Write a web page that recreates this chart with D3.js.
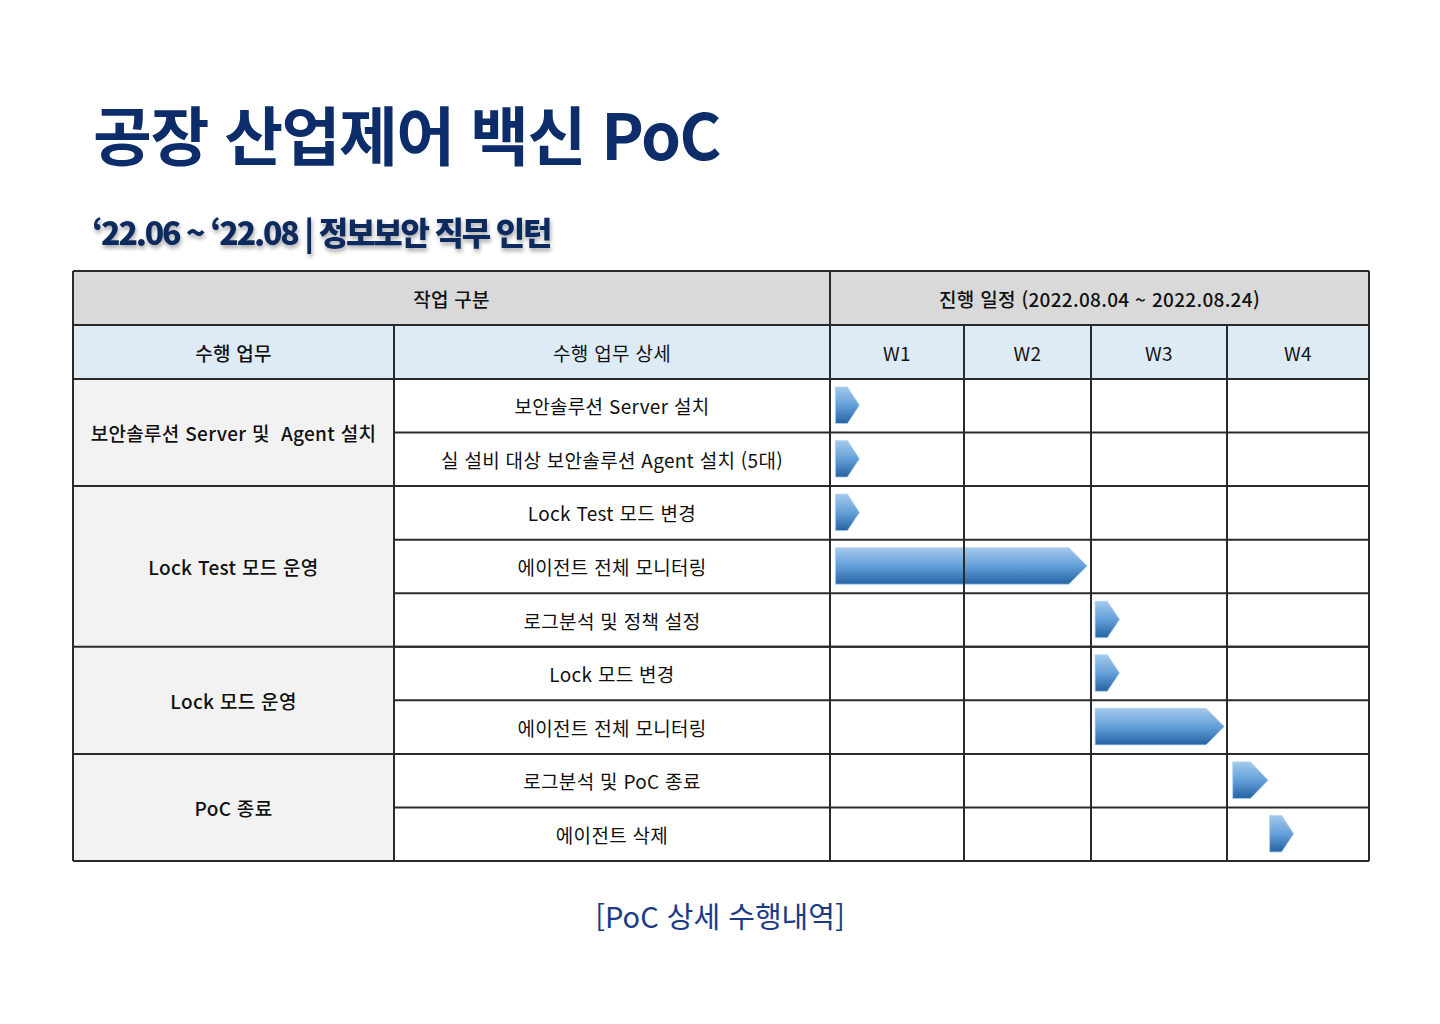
<!DOCTYPE html>
<html lang="ko">
<head>
<meta charset="utf-8">
<script src="https://cdn.jsdelivr.net/npm/d3@7"></script>
<style>
  html, body { margin: 0; padding: 0; background: #fff; }
  svg text { white-space: pre; }
</style>
</head>
<body>
<div id="chart"></div>
<script>
// DATA ////////////////////////////////////////////////////////////////////////
const title = "공장 산업제어 백신 PoC";
const subtitle = "‘22.06 ~ ‘22.08 | 정보보안 직무 인턴";
const caption = "[PoC 상세 수행내역]";

const headLeft = "작업 구분";
const headRight = "진행 일정 (2022.08.04 ~ 2022.08.24)";
const subHeads = ["수행 업무", "수행 업무 상세"];
const weeks = ["W1", "W2", "W3", "W4"];

const groups = ["보안솔루션 Server 및  Agent 설치", "Lock Test 모드 운영", "Lock 모드 운영", "PoC 종료"];
const groupSize = [2, 3, 2, 2];

const tasks = [
  "보안솔루션 Server 설치",
  "실 설비 대상 보안솔루션 Agent 설치 (5대)",
  "Lock Test 모드 변경",
  "에이전트 전체 모니터링",
  "로그분석 및 정책 설정",
  "Lock 모드 변경",
  "에이전트 전체 모니터링",
  "로그분석 및 PoC 종료",
  "에이전트 삭제"
];
// start / end in weeks (0 = start of W1)
const taskStart = [0.04, 0.04, 0.04, 0.04, 2.03, 2.03, 2.03, 3.04, 3.30];
const taskEnd   = [0.22, 0.22, 0.22, 1.97, 2.21, 2.21, 2.98, 3.29, 3.47];

// LAYOUT //////////////////////////////////////////////////////////////////////
const W = 1440, H = 1024;
const tableLeft = 73, tableRight = 1369, tableTop = 271;
const headH = 54;
const col1 = 394, col2 = 830;
const bodyTop = tableTop + headH * 2, bodyBottom = 861;
const kFont = "'Noto Sans CJK KR', 'Noto Sans', sans-serif";

const svg = d3.select("#chart")
  .append("svg")
  .attr("width", W)
  .attr("height", H);

const defs = svg.append("defs");
const grad = defs.append("linearGradient")
  .attr("id", "barGrad")
  .attr("x1", 0).attr("y1", 0).attr("x2", 0).attr("y2", 1);
grad.append("stop").attr("offset", "0%").attr("stop-color", "#a4c9ec");
grad.append("stop").attr("offset", "50%").attr("stop-color", "#64a0d8");
grad.append("stop").attr("offset", "100%").attr("stop-color", "#2462a4");

const shadow = defs.append("filter").attr("id", "txtShadow")
  .attr("x", "-5%").attr("y", "-20%").attr("width", "110%").attr("height", "160%");
shadow.append("feDropShadow")
  .attr("dx", 1).attr("dy", 3).attr("stdDeviation", 2)
  .attr("flood-color", "#000").attr("flood-opacity", 0.35);

// scales
const x = d3.scaleLinear()
  .domain([0, 1, 2, 3, 4])
  .range([col2, 964, 1091, 1227, tableRight]);

const y = d3.scaleBand()
  .domain(d3.range(tasks.length))
  .range([bodyTop, bodyBottom]);

// TITLE ///////////////////////////////////////////////////////////////////////
svg.append("text")
  .attr("x", 93)
  .attr("y", 160)
  .attr("font-family", kFont)
  .attr("font-weight", 700)
  .attr("font-size", 64)
  .attr("letter-spacing", -1.5)
  .attr("fill", "#0c2c6a")
  .text(title);

svg.append("text")
  .attr("x", 92)
  .attr("y", 245)
  .attr("font-family", kFont)
  .attr("font-weight", 900)
  .attr("font-size", 32)
  .attr("letter-spacing", -2.2)
  .attr("fill", "#0f2a5e")
  .attr("filter", "url(#txtShadow)")
  .text(subtitle);

// TABLE BACKGROUNDS ///////////////////////////////////////////////////////////
const g = svg.append("g");

g.append("rect")
  .attr("x", tableLeft).attr("y", tableTop)
  .attr("width", tableRight - tableLeft).attr("height", headH)
  .attr("fill", "#d9d9d9");

g.append("rect")
  .attr("x", tableLeft).attr("y", tableTop + headH)
  .attr("width", tableRight - tableLeft).attr("height", headH)
  .attr("fill", "#ddebf7");

g.append("rect")
  .attr("x", tableLeft).attr("y", bodyTop)
  .attr("width", col1 - tableLeft).attr("height", bodyBottom - bodyTop)
  .attr("fill", "#f2f2f2");

// group row ranges
let acc = 0;
const groupRows = groupSize.map(n => { const r = [acc, acc + n]; acc += n; return r; });

// BARS ////////////////////////////////////////////////////////////////////////
const inTop = 8, inBot = 9;
g.selectAll(".bar")
  .data(tasks.map((t, i) => i))
  .enter()
  .append("path")
  .attr("class", "bar")
  .attr("d", function(i) {
    const x0 = x(taskStart[i]), x1 = x(taskEnd[i]);
    const y0 = y(i) + inTop, y1 = y(i) + y.bandwidth() - inBot;
    const h = y1 - y0;
    const tip = Math.min(h / 2, (x1 - x0) / 2);
    return "M" + x0 + "," + y0 +
      "L" + (x1 - tip) + "," + y0 +
      "L" + x1 + "," + (y0 + h / 2) +
      "L" + (x1 - tip) + "," + y1 +
      "L" + x0 + "," + y1 + "Z";
  })
  .attr("fill", "url(#barGrad)")
  .attr("stroke", "#b5d3ef")
  .attr("stroke-width", 0.8);

// GRID LINES //////////////////////////////////////////////////////////////////
const lineColor = "#2a2a2a";

// horizontal: header rows + group bottoms across the full width
const hLines = [tableTop, tableTop + headH, bodyTop];
g.selectAll(".hfull")
  .data(hLines.concat(groupRows.map(r => y(r[1]) || bodyBottom)))
  .enter()
  .append("line")
  .attr("x1", tableLeft).attr("x2", tableRight)
  .attr("y1", d => d).attr("y2", d => d)
  .attr("stroke", lineColor).attr("stroke-width", 2);

g.selectAll(".hpart")
  .data(d3.range(1, tasks.length))
  .enter()
  .append("line")
  .attr("x1", col1).attr("x2", tableRight)
  .attr("y1", d => y(d)).attr("y2", d => y(d))
  .attr("stroke", lineColor).attr("stroke-width", 2);

// vertical
g.selectAll(".vfull")
  .data([tableLeft, tableRight])
  .enter()
  .append("line")
  .attr("x1", d => d).attr("x2", d => d)
  .attr("y1", tableTop).attr("y2", bodyBottom)
  .attr("stroke", lineColor).attr("stroke-width", 2);

g.append("line")
  .attr("x1", col2).attr("x2", col2)
  .attr("y1", tableTop).attr("y2", bodyBottom)
  .attr("stroke", lineColor).attr("stroke-width", 2);

g.append("line")
  .attr("x1", col1).attr("x2", col1)
  .attr("y1", tableTop + headH).attr("y2", bodyBottom)
  .attr("stroke", lineColor).attr("stroke-width", 2);

g.selectAll(".vweek")
  .data([1, 2, 3])
  .enter()
  .append("line")
  .attr("x1", d => x(d)).attr("x2", d => x(d))
  .attr("y1", tableTop + headH).attr("y2", bodyBottom)
  .attr("stroke", lineColor).attr("stroke-width", 2);

// TEXTS ///////////////////////////////////////////////////////////////////////
function cellText(cx, cy, str, weight) {
  g.append("text")
    .attr("x", cx)
    .attr("y", cy)
    .attr("text-anchor", "middle")
    .attr("dominant-baseline", "central")
    .attr("font-family", kFont)
    .attr("font-size", 19)
    .attr("letter-spacing", 0.3)
    .attr("font-weight", weight)
    .attr("fill", "#111")
    .text(str);
}

cellText((tableLeft + col2) / 2, tableTop + headH / 2, headLeft, 500);
cellText((col2 + tableRight) / 2, tableTop + headH / 2, headRight, 500);
cellText((tableLeft + col1) / 2, tableTop + headH * 1.5, subHeads[0], 500);
cellText((col1 + col2) / 2, tableTop + headH * 1.5, subHeads[1], 400);
weeks.forEach((w, i) => cellText((x(i) + x(i + 1)) / 2, tableTop + headH * 1.5, w, 400));

groups.forEach((gr, i) => {
  const r = groupRows[i];
  const y0 = y(r[0]), y1 = r[1] < tasks.length ? y(r[1]) : bodyBottom;
  cellText((tableLeft + col1) / 2, (y0 + y1) / 2, gr, 500);
});

tasks.forEach((t, i) => cellText((col1 + col2) / 2, y(i) + y.bandwidth() / 2, t, 400));

// CAPTION /////////////////////////////////////////////////////////////////////
svg.append("text")
  .attr("x", 720)
  .attr("y", 915)
  .attr("text-anchor", "middle")
  .attr("dominant-baseline", "central")
  .attr("font-family", kFont)
  .attr("font-size", 29)
  .attr("fill", "#1a3a86")
  .text(caption);
</script>
</body>
</html>
